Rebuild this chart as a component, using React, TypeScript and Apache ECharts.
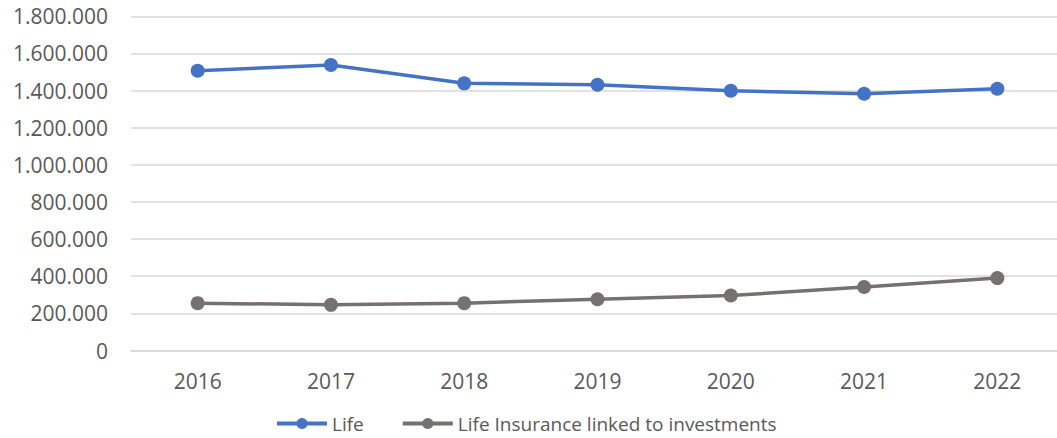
import React, { useEffect, useRef } from "react";
import * as echarts from "echarts";

const years = ["2016", "2017", "2018", "2019", "2020", "2021", "2022"];
const lifeValues = [1507000, 1538000, 1439000, 1431000, 1399000, 1383000, 1410000];
const linkedValues = [255000, 246000, 255000, 276000, 296000, 342000, 390000];
const seriesNames = ["Life", "Life Insurance linked to investments"];

const FONT = "Open Sans";
const TEXT = "#595959";

function fmt(v: number): string {
  return String(Math.round(v)).replace(/\B(?=(\d{3})+(?!\d))/g, ".");
}

export default function App() {
  const ref = useRef<HTMLDivElement>(null);
  useEffect(() => {
    if (!ref.current) return;
    const chart = echarts.init(ref.current, undefined, { renderer: "svg" });
    chart.setOption({
      animation: false,
      backgroundColor: "#ffffff",
      textStyle: { fontFamily: FONT },
      grid: { left: 131, top: 16.3, right: 0, height: 334.2 },
      legend: {
        data: seriesNames,
        left: 270,
        top: 409,
        itemWidth: 50,
        itemHeight: 14,
        itemGap: 37,
        lineStyle: { width: 4 },
        textStyle: { fontFamily: FONT, fontSize: 19, color: TEXT },
      },
      xAxis: {
        type: "category",
        data: years,
        boundaryGap: true,
        axisLine: { show: true, lineStyle: { color: "#D9D9D9", width: 1.5 } },
        axisTick: { show: false },
        axisLabel: { color: TEXT, fontSize: 21, fontFamily: FONT, margin: 20 },
      },
      yAxis: {
        type: "value",
        min: 0,
        max: 1800000,
        interval: 200000,
        axisLine: { show: false },
        axisTick: { show: false },
        splitLine: { lineStyle: { color: "#D9D9D9", width: 1.5 } },
        axisLabel: {
          color: TEXT,
          fontSize: 21,
          fontFamily: FONT,
          margin: 23,
          formatter: (v: number) => fmt(v),
        },
      },
      series: [
        {
          name: seriesNames[0],
          type: "line",
          data: lifeValues,
          symbol: "circle",
          symbolSize: 14,
          lineStyle: { color: "#4472C4", width: 3.5 },
          itemStyle: { color: "#4472C4" },
        },
        {
          name: seriesNames[1],
          type: "line",
          data: linkedValues,
          symbol: "circle",
          symbolSize: 14,
          lineStyle: { color: "#767171", width: 3.5 },
          itemStyle: { color: "#767171" },
        },
      ],
    });
    return () => chart.dispose();
  }, []);
  return (
    <div style={{ position: "fixed", left: 0, top: 0, width: 1057, height: 438, overflow: "hidden" }}>
      <div ref={ref} style={{ width: 1064, height: 438 }} />
    </div>
  );
}
